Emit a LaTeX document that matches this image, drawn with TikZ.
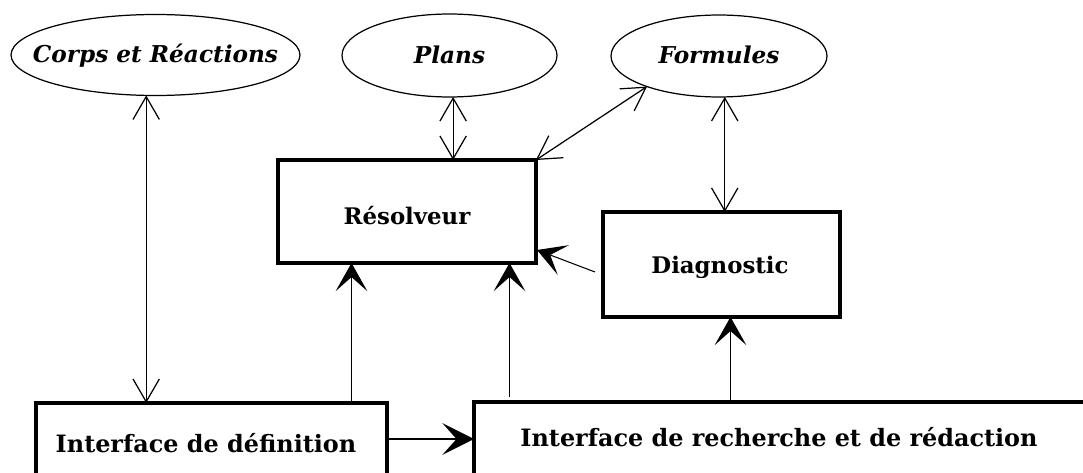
\documentclass[tikz,border=0pt]{standalone}
\usepackage{fontspec}
\setmainfont{DejaVu Serif}
\usetikzlibrary{shapes.geometric,arrows.meta}
\tikzset{
  base/.style={ellipse, draw, line width=0.7pt, inner sep=0pt, inner xsep=-5mm, outer sep=0pt, text height=9.5pt, text depth=0.5pt, font=\bfseries\itshape\fontsize{13.2}{15}\selectfont},
  module/.style={draw, rectangle, line width=2pt, inner sep=0pt, outer sep=0pt},
  modtext/.style={inner sep=0pt, font=\bfseries\fontsize{13}{15}\selectfont},
  longtext/.style={inner sep=0pt, font=\bfseries\fontsize{13.6}{15}\selectfont},
  both/.style={line width=0.7pt, {Straight Barb[length=13pt,width=15pt]}-{Straight Barb[length=13pt,width=15pt]}},
  feed/.style={line width=0.6pt, -{Stealth[length=16pt,width=18pt,inset=8pt]}}
}
\begin{document}
\begin{tikzpicture}[x=0.02cm,y=-0.02cm]
\useasboundingbox (0,0) rectangle (1083,473);
\clip (0,0) rectangle (1083,473);
% bases
\node[base, minimum width=5.78cm, minimum height=1.62cm] (corps) at (155.5,55) {Corps et Réactions};
\node[base, minimum width=4.3cm, minimum height=1.66cm] (plans) at (449.5,55.5) {Plans};
\node[base, minimum width=4.32cm, minimum height=1.64cm] (form) at (719,56) {Formules};
% modules
\node[module, minimum width=5.16cm, minimum height=2.06cm] (res) at (407,211.5) {};
\node[modtext] (restxt) at (407,216) {Résolveur};
\node[module, minimum width=4.74cm, minimum height=2.1cm] (diag) at (721.5,264.5) {};
\node[modtext] (diagtxt) at (720,267) {Diagnostic};
\node[module, minimum width=7.02cm, minimum height=3cm] (idef) at (211.5,478) {};
\node[longtext] (ideftxt) at (206,443) {Interface de définition};
\node[module, minimum width=15cm, minimum height=3cm] (irech) at (849,477) {};
\node[longtext] (irechtxt) at (779,437) {Interface de recherche et de rédaction};
% liaisons
\path[draw,both] (corps.-103) -- (idef.north -| corps.-103);
\path[draw,both] (plans.-85) -- (res.north -| plans.-85);
\path[draw,both] (form.203) -- (res.north east);
\path[draw,both] (form.-82) -- (diag.north -| form.-82);
\coordinate (d1) at (351.5,403);
\coordinate (d2) at (509.5,397);
\coordinate (d3) at (730.5,402);
\path[draw,feed] (d1) -- (res.south -| d1);
\path[draw,feed] (d2) -- (res.south -| d2);
\path[draw,feed] (d3) -- (diag.south -| d3);
\coordinate (d4) at (595,272);
\coordinate (d5) at (537,250);
\path[draw,feed] (d4) -- (d5);
\coordinate (d6) at (387,439);
\path[draw,feed,line width=1.3pt,-{Stealth[length=18pt,width=18pt,inset=8pt]}] (d6) -- (irech.west |- d6);
\end{tikzpicture}
\end{document}
